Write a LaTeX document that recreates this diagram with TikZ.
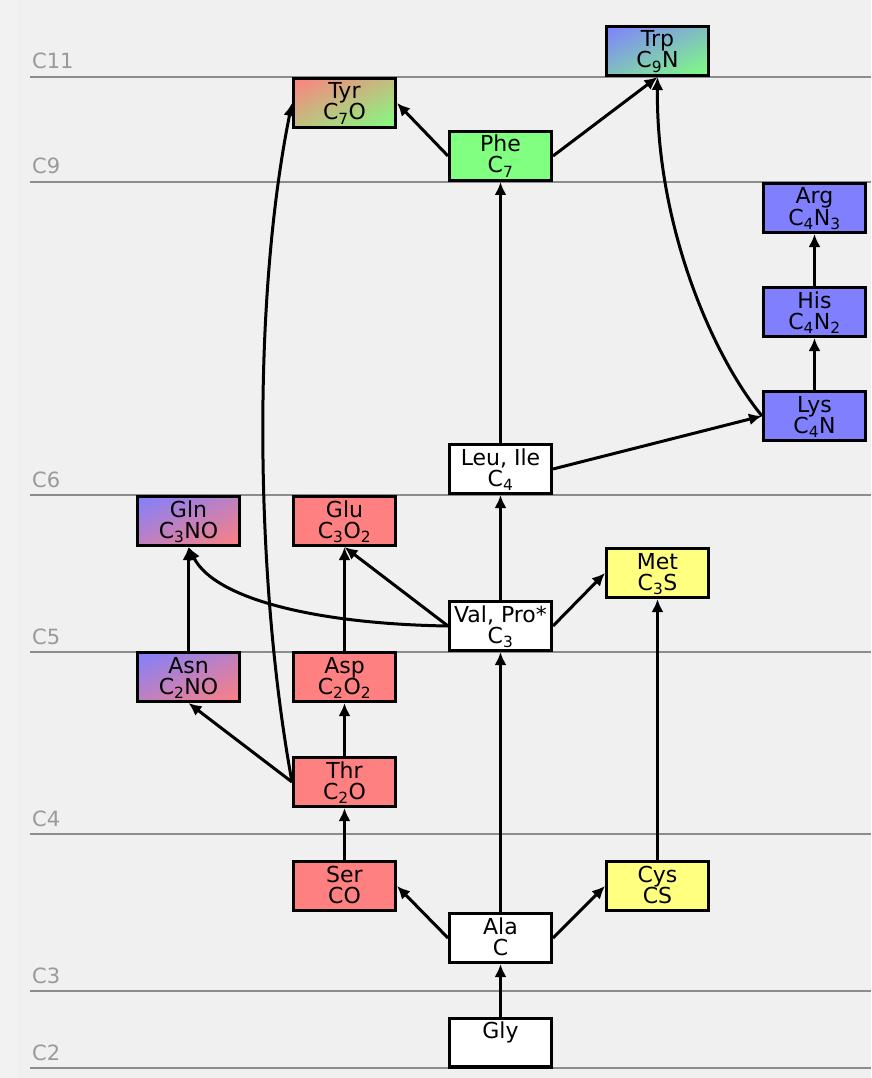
\documentclass[tikz,border=0pt]{standalone}
\usepackage{fontspec}
\setmainfont{DejaVu Sans}
\usetikzlibrary{arrows.meta,shadings}
\definecolor{bg}{HTML}{F0F0F0}
\definecolor{bgl}{HTML}{F2F2F2}
\definecolor{lvl}{HTML}{8C8C8C}
\definecolor{lvltext}{HTML}{9A9A9A}
\definecolor{cred}{HTML}{FF8080}
\definecolor{cblue}{HTML}{8080FF}
\definecolor{cgreen}{HTML}{80FF80}
\definecolor{cyel}{HTML}{FFFF80}
\newcommand{\aatwo}[2]{\rule{0pt}{18pt}#1\\#2\rule[-5pt]{0pt}{5pt}}
\newcommand{\sbs}[1]{\textsubscript{#1}}
\begin{document}
\begin{tikzpicture}[x=1pt,y=-1pt,
  aabox/.style={draw=black, line width=3.4pt, minimum width=101.6pt, minimum height=48.6pt,
    inner sep=0pt, align=center, font=\fontsize{22}{21}\selectfont},
  whitebox/.style={aabox, fill=white},
  redbox/.style={aabox, fill=cred},
  bluebox/.style={aabox, fill=cblue},
  greenbox/.style={aabox, fill=cgreen},
  yelbox/.style={aabox, fill=cyel},
  gradbox/.style 2 args={aabox, shade, shading=bilinear interpolation,
    upper left=#1, lower right=#2, upper right=#1!50!#2, lower left=#1!50!#2},
  conn/.style={line width=3pt, -{Latex[length=13pt,width=12pt]}},
  level/.style={draw=lvl, line width=1.6pt},
  levellabel/.style={text=lvltext, anchor=base west, inner sep=0pt, font=\fontsize{21}{21}\selectfont}
]
\useasboundingbox (0,0) rectangle (871,1078);
\fill[bg] (0,0) rectangle (871,1078);
\fill[bgl] (0,0) rectangle (17,1078);

% level lines
\foreach \yy/\lab/\nm in {77/C11/l11, 182/C9/l9, 495/C6/l6, 652/C5/l5, 834/C4/l4, 991/C3/l3, 1068/C2/l2}{
  \draw[level] (30,\yy) -- (871,\yy);
  \node[levellabel] (\nm) at (32,\yy-8) {\lab};
}

% nodes
\node[whitebox] (gly) at (500.5,1042.5) {\aatwo{Gly}{}};
\node[whitebox] (ala) at (500.5,938) {\aatwo{Ala}{C}};
\node[redbox] (ser) at (344.5,886) {\aatwo{Ser}{CO}};
\node[yelbox] (cys) at (657.5,886) {\aatwo{Cys}{CS}};
\node[redbox] (thr) at (344.5,782) {\aatwo{Thr}{C\sbs{2}O}};
\node[gradbox={cblue}{cred}] (asn) at (188.5,677) {\aatwo{Asn}{C\sbs{2}NO}};
\node[redbox] (asp) at (344.5,677) {\aatwo{Asp}{C\sbs{2}O\sbs{2}}};
\node[whitebox] (val) at (500.5,626) {\aatwo{Val, Pro*}{C\sbs{3}}};
\node[yelbox] (met) at (657.5,573) {\aatwo{Met}{C\sbs{3}S}};
\node[gradbox={cblue}{cred}] (gln) at (188.5,521) {\aatwo{Gln}{C\sbs{3}NO}};
\node[redbox] (glu) at (344.5,521) {\aatwo{Glu}{C\sbs{3}O\sbs{2}}};
\node[whitebox] (leu) at (500.5,469) {\aatwo{Leu, Ile}{C\sbs{4}}};
\node[bluebox] (lys) at (814.5,416) {\aatwo{Lys}{C\sbs{4}N}};
\node[bluebox] (his) at (814.5,312) {\aatwo{His}{C\sbs{4}N\sbs{2}}};
\node[bluebox] (arg) at (814.5,208) {\aatwo{Arg}{C\sbs{4}N\sbs{3}}};
\node[greenbox] (phe) at (500.5,156) {\aatwo{Phe}{C\sbs{7}}};
\node[gradbox={cred}{cgreen}] (tyr) at (344.5,103) {\aatwo{Tyr}{C\sbs{7}O}};
\node[gradbox={cblue}{cgreen}] (trp) at (657.5,51) {\aatwo{Trp}{C\sbs{9}N}};

% connectors
\draw[conn] (gly) -- (ala);
\draw[conn] (ala.west) -- (ser.east);
\draw[conn] (ala.east) -- (cys.west);
\draw[conn] (ala) -- (val);
\draw[conn] (ser) -- (thr);
\draw[conn] (thr) -- (asp);
\draw[conn] (thr.west) -- (asn.south);
\draw[conn] (thr.west) .. controls (255,580) and (252,300) .. (tyr.west);
\draw[conn] (asn) -- (gln);
\draw[conn] (asp) -- (glu);
\draw[conn] (val.west) -- (glu.south);
\draw[conn] (val.west) .. controls (320,624) and (215,600) .. (gln.south);
\draw[conn] (val) -- (leu);
\draw[conn] (val.east) -- (met.west);
\draw[conn] (cys) -- (met);
\draw[conn] (leu) -- (phe);
\draw[conn] (leu.east) -- (lys.west);
\draw[conn] (lys) -- (his);
\draw[conn] (his) -- (arg);
\draw[conn] (lys.west) .. controls (712,355) and (656,225) .. (trp.south);
\draw[conn] (phe.west) -- (tyr.east);
\draw[conn] (phe.east) -- (trp.south);
\end{tikzpicture}
\end{document}
